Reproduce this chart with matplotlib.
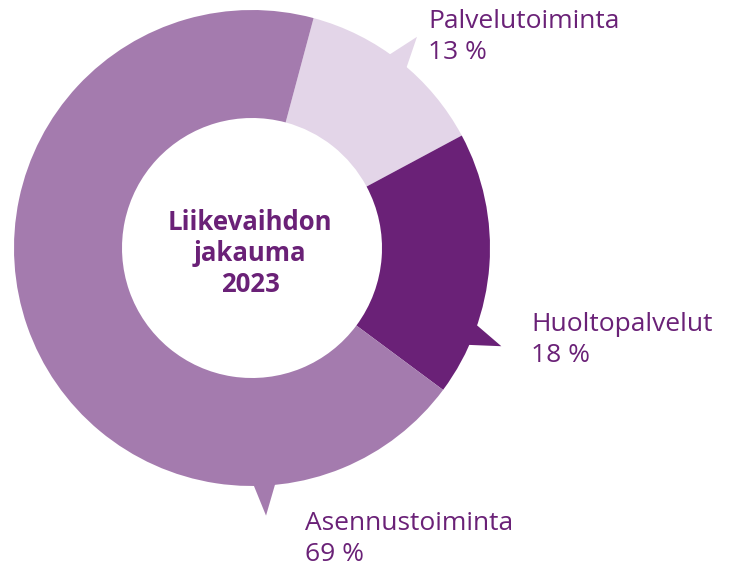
import numpy as np
import matplotlib
matplotlib.use('Agg')
import matplotlib.pyplot as plt
from matplotlib.patches import Polygon

# data
labels = ['Palvelutoiminta', 'Huoltopalvelut', 'Asennustoiminta']
shares = [13, 18, 69]
colors = ['#E3D5E8', '#6A2177', '#A47BAE']
title = 'Liikevaihdon\njakauma\n2023'

plt.rcParams['font.family'] = ['Open Sans', 'DejaVu Sans']
txtcol = '#6A2177'

W, H = 729, 566
fig = plt.figure(figsize=(W / 100, H / 100), dpi=100)
ax = fig.add_axes([0, 0, 1, 1])

cx, cy = 252, H - 248   # ring centre (y up)
r_out, ring = 238, 108

ax.pie(shares, colors=colors, startangle=75, counterclock=False,
       radius=r_out, center=(cx, cy),
       wedgeprops=dict(width=ring, edgecolor='none', linewidth=0))

# little speech-bubble pointers sticking out of the ring
pointer_ang = [52, -21.5, -87]
for ang, c in zip(pointer_ang, colors):
    t = np.deg2rad(ang)
    u = np.array([np.cos(t), np.sin(t)])
    n = np.array([-u[1], u[0]])
    c0 = np.array([cx, cy])
    base = c0 + u * (r_out - 6)
    tip = c0 + u * (r_out + 30)
    tri = Polygon([base + n * 12.5, base - n * 12.5, tip], closed=True,
                  facecolor=c, edgecolor='none')
    ax.add_patch(tri)

ax.text(cx - 2, H - 292, title, ha='center', va='baseline', fontsize=18.5,
        fontweight='bold', color=txtcol, linespacing=1.2)

# labels: name line and percent line
label_pos = [(428, H - 28), (531, H - 331), (305, H - 530)]
for (x, y), name, v in zip(label_pos, labels, shares):
    ax.text(x, y, name, ha='left', va='baseline', fontsize=19, color=txtcol)
    ax.text(x, y - 31, f'{v} %', ha='left', va='baseline', fontsize=19,
            color=txtcol)

ax.set_xlim(0, W)
ax.set_ylim(0, H)
ax.set_aspect('equal')
ax.axis('off')

fig.savefig('out.png', dpi=100)
